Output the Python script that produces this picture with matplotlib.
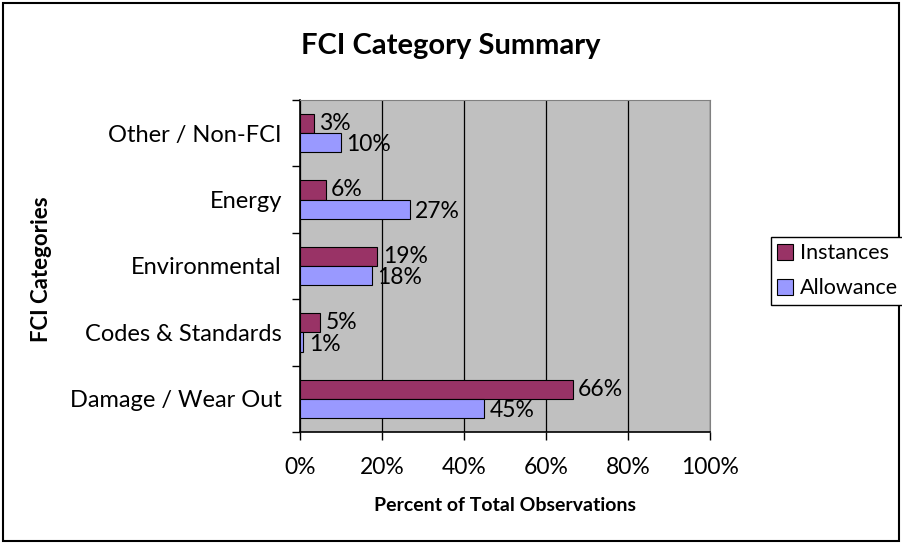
import matplotlib
matplotlib.use('Agg')
import matplotlib.pyplot as plt
import numpy as np
from matplotlib.patches import Rectangle

categorias = ['Damage / Wear Out', 'Codes & Standards', 'Environmental', 'Energy', 'Other / Non-FCI']
instances = [66.5, 4.9, 18.9, 6.3, 3.4]
allowance = [44.9, 0.8, 17.6, 26.8, 10.0]
rot_inst = ['66%', '5%', '19%', '6%', '3%']
rot_allow = ['45%', '1%', '18%', '27%', '10%']
xticks = [0, 20, 40, 60, 80, 100]

plt.rcParams['font.family'] = ['Lato', 'DejaVu Sans']

fig = plt.figure(figsize=(9.02, 5.44), dpi=100)
ax = fig.add_axes([300 / 902, 1 - 432 / 544, 410 / 902, 332 / 544])
ax.set_facecolor('#C0C0C0')

y = np.arange(len(categorias))
h = 0.29
ax.barh(y + h / 2, instances, h, color='#993366', edgecolor='black', linewidth=0.8, label='Instances', zorder=3)
ax.barh(y - h / 2, allowance, h, color='#9999FF', edgecolor='black', linewidth=0.8, label='Allowance', zorder=3)

for i in range(len(categorias)):
    ax.text(instances[i] + 1.3, y[i] + h / 2, rot_inst[i], va='center', ha='left', fontsize=16.5, zorder=4)
    ax.text(allowance[i] + 1.3, y[i] - h / 2 - 0.03, rot_allow[i], va='center', ha='left', fontsize=16.5, zorder=4)

ax.set_xlim(0, 100)
ax.set_ylim(-0.5, len(categorias) - 0.5)
ax.set_xticks(xticks)
ax.set_xticklabels([f'{v}%' for v in xticks], fontsize=16.5)
ax.set_yticks(y)
ax.set_yticklabels(categorias, fontsize=17)
ax.tick_params(axis='y', length=0, pad=13)
ax.set_yticks(np.arange(-0.5, len(categorias), 1), minor=True)
ax.tick_params(axis='y', which='minor', length=6, width=1)
ax.tick_params(axis='x', length=6, width=1, pad=12)
ax.grid(axis='x', color='black', linewidth=0.9, zorder=1)
for s in ['top', 'right']:
    ax.spines[s].set_color('#808080')
for s in ['left', 'bottom']:
    ax.spines[s].set_linewidth(1.2)

ax.set_xlabel('Percent of Total Observations', fontsize=14, fontweight='bold', labelpad=14)
fig.text(42 / 902, 1 - 269 / 544, 'FCI Categories', rotation=90, ha='center', va='center',
         fontsize=16, fontweight='bold')
fig.text(451 / 902, 1 - 46 / 544, 'FCI Category Summary', ha='center', va='center',
         fontsize=21, fontweight='bold')

handles, labels = ax.get_legend_handles_labels()
fig.legend(handles, labels, loc='upper left', bbox_to_anchor=(760 / 902, 1 - 226 / 544),
           fontsize=15.5, frameon=True, fancybox=False, edgecolor='black', framealpha=1,
           handlelength=0.75, handleheight=0.75, handletextpad=0.3, borderpad=0.3, labelspacing=0.7)

fig.patches.append(Rectangle((0.003, 0.005), 0.994, 0.99, transform=fig.transFigure,
                             fill=False, edgecolor='black', linewidth=1.5))

fig.savefig('out.png', dpi=100)
plt.close()
